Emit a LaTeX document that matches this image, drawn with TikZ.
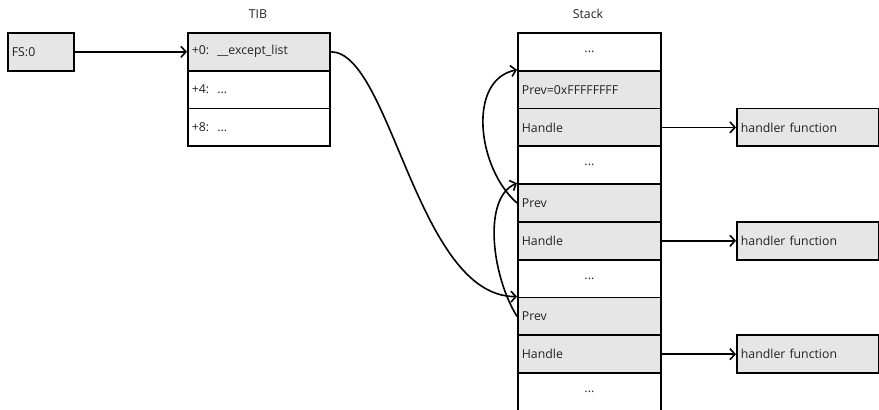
\documentclass[tikz,border=0pt]{standalone}
\usepackage{fontspec}
\setmainfont{Open Sans}
\usetikzlibrary{arrows.meta}
\definecolor{cellgray}{HTML}{E6E6E6}
\definecolor{txt}{HTML}{222222}
\begin{document}
\begin{tikzpicture}[x=1pt,y=-1pt,
  cell/.style={draw=black, line width=1.8pt, rectangle, anchor=north west,
    minimum height=37.8pt, inner xsep=4pt, inner ysep=0pt, text=txt,
    font=\fontsize{12.3}{14}\selectfont},
  tibcell/.style={cell, minimum width=142pt, text width=134pt, align=left},
  stk/.style={cell, minimum width=143pt, text width=135pt, align=left},
  stkdots/.style={cell, minimum width=143pt, text width=135pt, align=center},
  gray/.style={fill=cellgray},
  white/.style={fill=white},
  title/.style={font=\fontsize{12.3}{14}\selectfont, text=txt},
  conn/.style={-{Straight Barb[length=5pt,width=11pt,line width=1.6pt]}, line width=1.6pt},
]
\useasboundingbox (0,0) rectangle (879,410);

\node[cell, gray, minimum width=66pt, text width=58pt, align=left] (fs) at (7,32) {FS:0};

\node[title] (tibt) at (258,14) {TIB};
\node[tibcell, gray]  (t0) at (187,32) {+0:\ \ \_\_except\_list};
\node[tibcell, white] (t1) at (187,69.8) {+4:\ \ ...};
\node[tibcell, white] (t2) at (187,107.6) {+8:\ \ ...};

\node[title] (stkt) at (588,14) {Stack};
\node[stkdots, white] (s0) at (517,32) {...};
\node[stk, gray] (s1) at (517,69.8) {Prev=0xFFFFFFFF};
\node[stk, gray] (s2) at (517,107.6) {Handle};
\node[stkdots, white] (s3) at (517,145.4) {...};
\node[stk, gray] (s4) at (517,183.2) {Prev};
\node[stk, gray] (s5) at (517,221) {Handle};
\node[stkdots, white] (s6) at (517,258.8) {...};
\node[stk, gray] (s7) at (517,296.6) {Prev};
\node[stk, gray] (s8) at (517,334.4) {Handle};
\node[stkdots, white] (s9) at (517,372.2) {...};

\node[tibcell, gray] (h1) at (736,107.6) {handler function};
\node[tibcell, gray] (h2) at (736,221) {handler function};
\node[tibcell, gray] (h3) at (736,334.4) {handler function};

\draw[conn] (fs.east) -- (t0.west);
\draw[conn] (t0.east) .. controls +(60,0) and +(-100,0) .. (s7.north west);
\draw[conn] (s4.west) .. controls +(-40,-35) and +(-50,10) .. (s1.north west);
\draw[conn] (s7.west) .. controls +(-25,-40) and +(-35,15) .. (s4.north west);
\draw[conn] (s2.east) -- (h1.west);
\draw[conn] (s5.east) -- (h2.west);
\draw[conn] (s8.east) -- (h3.west);
\end{tikzpicture}
\end{document}
